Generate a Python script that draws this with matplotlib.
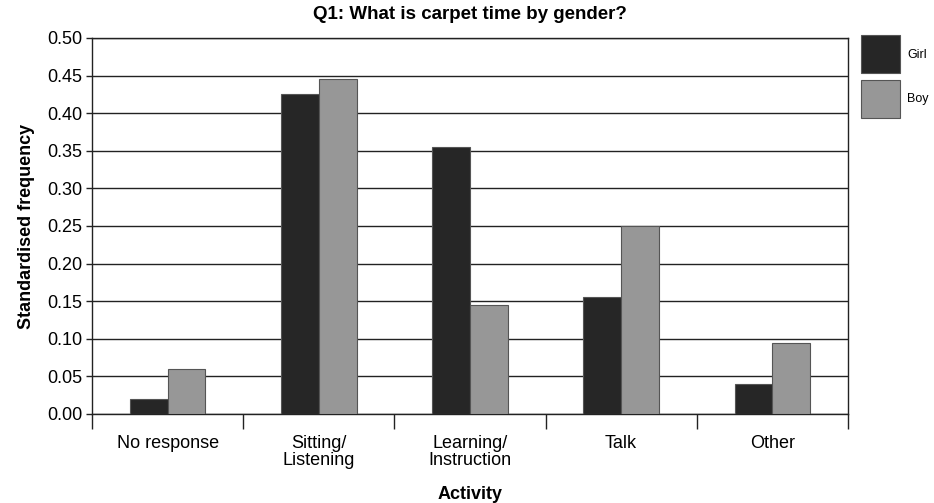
import matplotlib
matplotlib.use("Agg")
import matplotlib.pyplot as plt
import numpy as np

categories = ["No response", "Sitting/\nListening", "Learning/\nInstruction", "Talk", "Other"]
girl = [0.02, 0.425, 0.355, 0.155, 0.04]
boy = [0.06, 0.445, 0.145, 0.25, 0.095]
series_names = ["Girl", "Boy"]
yticks = [0.00, 0.05, 0.10, 0.15, 0.20, 0.25, 0.30, 0.35, 0.40, 0.45, 0.50]

plt.rcParams['font.family'] = ['Liberation Sans', 'DejaVu Sans']

fig = plt.figure(figsize=(9.34, 5.03), dpi=100)
ax = fig.add_axes([0.0985, 0.177, 0.8094, 0.7475])

x = np.arange(len(categories))
w = 0.25
c_girl = "#262626"
c_boy = "#979797"
ax.bar(x - w/2, girl, w, color=c_girl, edgecolor="#555555", linewidth=0.8, zorder=3, label=series_names[0])
ax.bar(x + w/2, boy, w, color=c_boy, edgecolor="#555555", linewidth=0.8, zorder=3, label=series_names[1])

ax.set_xlim(-0.5, len(categories) - 0.5)
ax.set_ylim(0, 0.5)
ax.set_yticks(yticks)
ax.set_yticklabels([f"{v:.2f}" for v in yticks], fontsize=13)
ax.yaxis.grid(True, color="#222222", linewidth=1.0, zorder=0)
ax.set_axisbelow(True)
ax.tick_params(axis='y', length=4, width=1.0, color="#222222", pad=3)

ax.set_xticks(x)
ax.set_xticklabels(categories, fontsize=13, linespacing=1.05)
ax.tick_params(axis='x', length=0, pad=15)
ax.set_xticks(np.arange(-0.5, len(categories)), minor=True)
ax.tick_params(axis='x', which='minor', length=11, width=1.0, color="#222222")

for s in ax.spines.values():
    s.set_color("#222222")
    s.set_linewidth(1.0)

ax.set_title("Q1: What is carpet time by gender?", fontsize=13.5, fontweight='bold', pad=14)
ax.set_xlabel("Activity", fontsize=13, fontweight='bold', labelpad=12)
ax.set_ylabel("Standardised frequency", fontsize=13, fontweight='bold', labelpad=9)

leg = ax.legend(loc='upper left', bbox_to_anchor=(1.017, 1.007), frameon=False,
                fontsize=9, handlelength=3.1, handleheight=4.3, handletextpad=0.6,
                labelspacing=0.5, borderaxespad=0, borderpad=0)

fig.savefig("out.png", dpi=100)
